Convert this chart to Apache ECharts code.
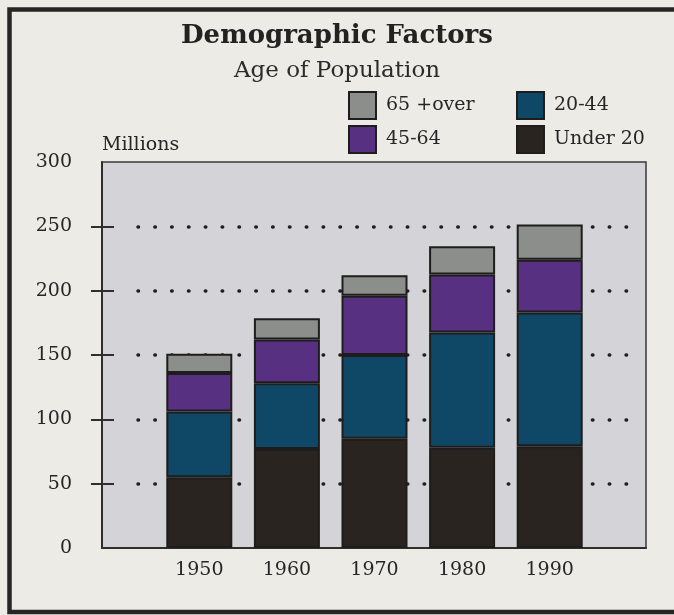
<!DOCTYPE html>
<html>
<head>
<meta charset="utf-8">
<script src="https://cdn.jsdelivr.net/npm/echarts@6/dist/echarts.min.js"></script>
<style>
  html, body { margin: 0; padding: 0; background: #e9e8e3; }
  #chart { width: 674px; height: 615px; }
</style>
</head>
<body>
<div id="chart"></div>
<script>
// Census decades shown on the horizontal axis
const years = ['1950', '1960', '1970', '1980', '1990'];

// Population by age group, in millions (stacked bottom to top)
const under20 = [55, 77, 85, 78, 79];
const age20to44 = [51, 51, 65, 89.5, 104];
const age45to64 = [30, 34, 46, 45, 41];
const age65over = [15, 16.5, 16, 22, 27.5];

// Value-axis ticks
const yTicks = [0, 50, 100, 150, 200, 250, 300];

const seriesNames = ['Under 20', '20-44', '45-64', '65 +over'];
const seriesValues = [under20, age20to44, age45to64, age65over];
const seriesColors = ['#2a2421', '#0f4866', '#573081', '#8b8e8b'];

const FONT = "'DejaVu Serif', 'Liberation Serif', serif";
const INK = '#262626';
const AXIS = '#2e2e2e';

const chart = echarts.init(document.getElementById('chart'), null, { renderer: 'canvas' });

const yMin = yTicks[0];
const yMax = yTicks[yTicks.length - 1];
const yStep = yTicks[1] - yTicks[0];

const PLOT_TOP = 162;
const PLOT_BOTTOM = 67;

const option = {
  backgroundColor: '#edebe5',
  animation: false,
  title: [
    {
      text: 'Demographic Factors',
      left: 'center',
      top: 18,
      textStyle: { fontFamily: FONT, fontWeight: 'bold', fontSize: 26, color: '#222' }
    },
    {
      text: 'Age of Population',
      left: 'center',
      top: 55,
      textStyle: { fontFamily: FONT, fontWeight: 'normal', fontSize: 23, color: '#2b2b2b' }
    }
  ],
  legend: [
    {
      data: ['65 +over', '45-64'],
      orient: 'vertical',
      left: 348,
      top: 91,
      padding: 0,
      itemWidth: 27,
      itemHeight: 27,
      itemGap: 5,
      selectedMode: false,
      icon: 'rect',
      textStyle: { fontFamily: FONT, fontSize: 19, color: INK, padding: [4, 0, 0, 5] }
    },
    {
      data: ['20-44', 'Under 20'],
      orient: 'vertical',
      left: 516,
      top: 91,
      padding: 0,
      itemWidth: 27,
      itemHeight: 27,
      itemGap: 5,
      selectedMode: false,
      icon: 'rect',
      textStyle: { fontFamily: FONT, fontSize: 19, color: INK, padding: [4, 0, 0, 5] }
    }
  ],
  grid: [
    {
      // shaded plot panel with the value axis
      left: 102, right: 28, top: PLOT_TOP, bottom: PLOT_BOTTOM,
      show: true,
      backgroundColor: '#d4d3d7',
      borderColor: '#3a3a3a',
      borderWidth: 1.5
    },
    {
      // dotted guide lines, inset from the panel edges
      left: 138, right: 45, top: PLOT_TOP, bottom: PLOT_BOTTOM
    },
    {
      // band holding the five decade bars, centred in the panel
      left: 155.5, right: 80.5, top: PLOT_TOP, bottom: PLOT_BOTTOM
    }
  ],
  xAxis: [
    {
      type: 'value',
      gridIndex: 0,
      min: 0,
      max: 1,
      splitLine: { show: false },
      axisTick: { show: false },
      axisLabel: { show: false },
      axisLine: { show: true, onZero: false, lineStyle: { color: AXIS, width: 2 } }
    },
    {
      type: 'value',
      gridIndex: 1,
      min: 0,
      max: 1,
      show: false
    },
    {
      type: 'category',
      gridIndex: 2,
      data: years,
      axisLine: { show: false },
      axisTick: { show: false },
      splitLine: { show: false },
      axisLabel: { fontFamily: FONT, fontSize: 19, color: INK, margin: 13 }
    }
  ],
  yAxis: [
    {
      type: 'value',
      gridIndex: 0,
      position: 'left',
      min: yMin,
      max: yMax,
      interval: yStep,
      name: 'Millions',
      nameLocation: 'end',
      nameGap: 7,
      nameTextStyle: { fontFamily: FONT, fontSize: 19, color: INK, align: 'left', verticalAlign: 'bottom' },
      splitLine: { show: false },
      axisLine: { show: true, lineStyle: { color: AXIS, width: 2 } },
      axisTick: {
        show: true,
        inside: false,
        length: 11,
        customValues: yTicks.slice(1, -1),
        lineStyle: { color: AXIS, width: 2 }
      },
      axisLabel: { fontFamily: FONT, fontSize: 19, color: INK, margin: 30 }
    },
    {
      type: 'value',
      gridIndex: 0,
      position: 'left',
      offset: 0,
      min: yMin,
      max: yMax,
      interval: yStep,
      splitLine: { show: false },
      axisLine: { show: false },
      axisLabel: { show: false },
      axisTick: {
        show: true,
        inside: true,
        length: 12,
        customValues: yTicks.slice(1, -1),
        lineStyle: { color: AXIS, width: 2 }
      }
    },
    {
      type: 'value',
      gridIndex: 1,
      min: yMin,
      max: yMax,
      interval: yStep,
      axisLine: { show: false },
      axisTick: { show: false },
      axisLabel: { show: false },
      splitLine: {
        show: true,
        showMinLine: false,
        showMaxLine: false,
        lineStyle: { color: '#1e1e1e', width: 3.5, type: [0.5, 16.33], cap: 'round' }
      }
    },
    {
      type: 'value',
      gridIndex: 2,
      min: yMin,
      max: yMax,
      interval: yStep,
      show: false
    }
  ],
  series: seriesNames.map((name, i) => ({
    name: name,
    type: 'bar',
    stack: 'population',
    xAxisIndex: 2,
    yAxisIndex: 3,
    barWidth: 66,
    z: 5,
    itemStyle: {
      color: seriesColors[i],
      borderColor: '#1f1d1c',
      borderWidth: 2
    },
    data: seriesValues[i]
  })),
  graphic: [
    {
      // dark frame around the panel (top, left, bottom edges)
      type: 'polyline',
      silent: true,
      shape: { points: [[674, 9.5], [9.5, 9.5], [9.5, 612], [674, 612]] },
      style: { fill: null, stroke: '#262626', lineWidth: 4.5 }
    }
  ]
};

chart.setOption(option);
</script>
</body>
</html>
